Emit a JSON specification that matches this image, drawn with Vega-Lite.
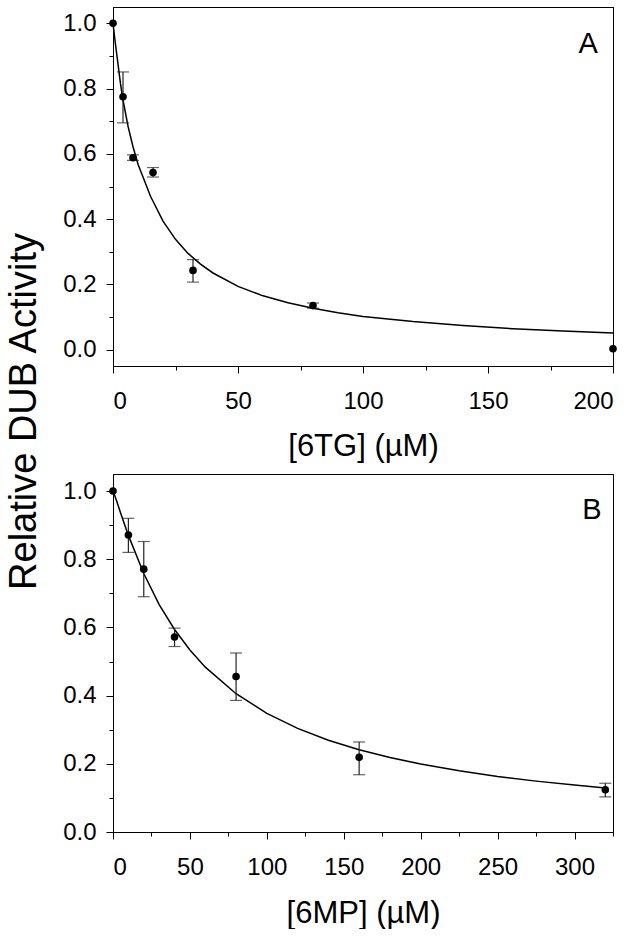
{
  "$schema": "https://vega.github.io/schema/vega-lite/v6.json",
  "padding": {"left": 4, "top": 6, "right": 0, "bottom": 0},
  "spacing": 108,
  "bounds": "flush",
  "config": {
    "view": {"stroke": "#000", "strokeWidth": 1},
    "axis": {
      "domainColor": "#000", "tickColor": "#000", "labelColor": "#000", "titleColor": "#000",
      "labelFont": "Liberation Sans", "titleFont": "Liberation Sans",
      "labelFontSize": 24, "titleFontSize": 31, "titleFontWeight": "normal",
      "grid": false, "domainWidth": 1, "tickWidth": 1
    }
  },
  "datasets": {
    "a_pts": [
      {"x": 0, "y": 1.0, "lo": null, "hi": null},
      {"x": 4, "y": 0.775, "lo": 0.695, "hi": 0.851},
      {"x": 8, "y": 0.588, "lo": 0.580, "hi": 0.597},
      {"x": 16, "y": 0.543, "lo": 0.529, "hi": 0.558},
      {"x": 32, "y": 0.243, "lo": 0.207, "hi": 0.276},
      {"x": 80, "y": 0.135, "lo": 0.127, "hi": 0.143},
      {"x": 200, "y": 0.003, "lo": null, "hi": null}
    ],
    "a_curve": [
      {"x": 0, "y": 1.0}, {"x": 0.5, "y": 0.967}, {"x": 1, "y": 0.935}, {"x": 2, "y": 0.875},
      {"x": 3, "y": 0.815}, {"x": 4, "y": 0.765}, {"x": 6, "y": 0.685}, {"x": 8, "y": 0.622},
      {"x": 10, "y": 0.568}, {"x": 12, "y": 0.529}, {"x": 15, "y": 0.47}, {"x": 20, "y": 0.394},
      {"x": 25, "y": 0.338}, {"x": 30, "y": 0.295}, {"x": 35, "y": 0.262}, {"x": 40, "y": 0.235},
      {"x": 50, "y": 0.194}, {"x": 60, "y": 0.165}, {"x": 70, "y": 0.144}, {"x": 80, "y": 0.127},
      {"x": 90, "y": 0.113}, {"x": 100, "y": 0.102}, {"x": 120, "y": 0.086}, {"x": 140, "y": 0.074},
      {"x": 160, "y": 0.064}, {"x": 180, "y": 0.057}, {"x": 200, "y": 0.051}
    ],
    "b_pts": [
      {"x": 0, "y": 1.0, "lo": null, "hi": null},
      {"x": 10, "y": 0.871, "lo": 0.820, "hi": 0.920},
      {"x": 20, "y": 0.771, "lo": 0.690, "hi": 0.852},
      {"x": 40, "y": 0.572, "lo": 0.544, "hi": 0.598},
      {"x": 80, "y": 0.456, "lo": 0.386, "hi": 0.525},
      {"x": 160, "y": 0.219, "lo": 0.168, "hi": 0.264},
      {"x": 320, "y": 0.124, "lo": 0.103, "hi": 0.143}
    ],
    "b_curve": [
      {"x": 0, "y": 1.0}, {"x": 2.5, "y": 0.969}, {"x": 5, "y": 0.935}, {"x": 10, "y": 0.870},
      {"x": 20, "y": 0.758}, {"x": 30, "y": 0.667}, {"x": 40, "y": 0.594}, {"x": 50, "y": 0.534},
      {"x": 60, "y": 0.4835}, {"x": 80, "y": 0.4055}, {"x": 100, "y": 0.348}, {"x": 120, "y": 0.304},
      {"x": 140, "y": 0.2693}, {"x": 160, "y": 0.2414}, {"x": 180, "y": 0.2184}, {"x": 200, "y": 0.1993},
      {"x": 225, "y": 0.1794}, {"x": 250, "y": 0.163}, {"x": 275, "y": 0.1492}, {"x": 300, "y": 0.1375},
      {"x": 320, "y": 0.1293}
    ]
  },
  "vconcat": [
    {
      "width": 500,
      "height": 359,
      "resolve": {"axis": {"x": "independent", "y": "independent"}},
      "layer": [
        {
          "encoding": {
            "x": {
              "field": "x", "type": "quantitative",
              "scale": {"domain": [0, 200], "nice": false, "zero": false},
              "axis": {
                "title": "[6TG] (µM)", "values": [0, 25, 50, 75, 100, 125, 150, 175, 200],
                "labelExpr": "datum.value % 50 == 0 ? datum.label : ''",
                "tickSize": {"condition": {"test": "datum.value % 50 == 0", "value": 7}, "value": 4},
                "labelPadding": 16, "titleX": 250, "titleY": 89, "titleBaseline": "alphabetic", "titleAlign": "center"
              }
            },
            "y": {
              "field": "y", "type": "quantitative",
              "scale": {"domain": [-0.05, 1.05], "nice": false, "zero": false},
              "axis": {
                "title": "Relative DUB Activity", "titleFontSize": 38,
                "values": [0, 0.1, 0.2, 0.3, 0.4, 0.5, 0.6, 0.7, 0.8, 0.9, 1.0],
                "labelExpr": "round(datum.value * 10) % 2 == 0 ? format(datum.value, '.1f') : ''",
                "tickSize": {"condition": {"test": "round(datum.value * 10) % 2 == 0", "value": 7}, "value": 4},
                "labelPadding": 10, "titleX": -78, "titleY": 404, "titleAngle": -90, "titleBaseline": "alphabetic", "titleAlign": "center"
              }
            }
          },
          "layer": [
            {"data": {"name": "a_curve"}, "mark": {"type": "line", "color": "#000", "strokeWidth": 1.5}},
            {
              "data": {"name": "a_pts"},
              "transform": [{"filter": "datum.lo != null"}],
              "mark": {"type": "rule", "color": "#222", "strokeWidth": 1.2},
              "encoding": {"y": {"field": "lo", "type": "quantitative"}, "y2": {"field": "hi"}}
            },
            {
              "data": {"name": "a_pts"},
              "transform": [{"filter": "datum.lo != null"}],
              "mark": {"type": "tick", "orient": "horizontal", "color": "#222", "size": 12, "thickness": 1.2},
              "encoding": {"y": {"field": "lo", "type": "quantitative"}}
            },
            {
              "data": {"name": "a_pts"},
              "transform": [{"filter": "datum.lo != null"}],
              "mark": {"type": "tick", "orient": "horizontal", "color": "#222", "size": 12, "thickness": 1.2},
              "encoding": {"y": {"field": "hi", "type": "quantitative"}}
            },
            {"data": {"name": "a_pts"}, "mark": {"type": "point", "filled": true, "color": "#000", "opacity": 1, "size": 58}}
          ]
        },
        {
          "data": {"name": "a_curve"},
          "mark": {"type": "line", "opacity": 0},
          "encoding": {
            "x": {
              "field": "x", "type": "quantitative",
              "axis": {"orient": "top", "labels": false, "ticks": false, "domain": true, "title": "A", "titleFontSize": 29, "titleX": 484.3, "titleY": 45, "titleAlign": "right", "titleBaseline": "alphabetic", "titleAngle": 0}
            },
            "y": {
              "field": "y", "type": "quantitative",
              "axis": {"orient": "right", "labels": false, "ticks": false, "domain": true, "title": null}
            }
          }
        }
      ]
    },
    {
      "width": 500,
      "height": 358,
      "resolve": {"axis": {"x": "independent", "y": "independent"}},
      "layer": [
        {
          "encoding": {
            "x": {
              "field": "x", "type": "quantitative",
              "scale": {"domain": [0, 325], "nice": false, "zero": false},
              "axis": {
                "title": "[6MP] (µM)", "values": [0, 25, 50, 75, 100, 125, 150, 175, 200, 225, 250, 275, 300, 325],
                "labelExpr": "datum.value % 50 == 0 ? datum.label : ''",
                "tickSize": {"condition": {"test": "datum.value % 50 == 0", "value": 7}, "value": 4},
                "labelPadding": 16, "titleX": 250, "titleY": 90, "titleBaseline": "alphabetic", "titleAlign": "center"
              }
            },
            "y": {
              "field": "y", "type": "quantitative",
              "scale": {"domain": [0, 1.05], "nice": false, "zero": false},
              "axis": {
                "title": null,
                "values": [0, 0.1, 0.2, 0.3, 0.4, 0.5, 0.6, 0.7, 0.8, 0.9, 1.0],
                "labelExpr": "round(datum.value * 10) % 2 == 0 ? format(datum.value, '.1f') : ''",
                "tickSize": {"condition": {"test": "round(datum.value * 10) % 2 == 0", "value": 7}, "value": 4},
                "labelPadding": 10
              }
            }
          },
          "layer": [
            {"data": {"name": "b_curve"}, "mark": {"type": "line", "color": "#000", "strokeWidth": 1.5}},
            {
              "data": {"name": "b_pts"},
              "transform": [{"filter": "datum.lo != null"}],
              "mark": {"type": "rule", "color": "#222", "strokeWidth": 1.2},
              "encoding": {"y": {"field": "lo", "type": "quantitative"}, "y2": {"field": "hi"}}
            },
            {
              "data": {"name": "b_pts"},
              "transform": [{"filter": "datum.lo != null"}],
              "mark": {"type": "tick", "orient": "horizontal", "color": "#222", "size": 12, "thickness": 1.2},
              "encoding": {"y": {"field": "lo", "type": "quantitative"}}
            },
            {
              "data": {"name": "b_pts"},
              "transform": [{"filter": "datum.lo != null"}],
              "mark": {"type": "tick", "orient": "horizontal", "color": "#222", "size": 12, "thickness": 1.2},
              "encoding": {"y": {"field": "hi", "type": "quantitative"}}
            },
            {"data": {"name": "b_pts"}, "mark": {"type": "point", "filled": true, "color": "#000", "opacity": 1, "size": 58}}
          ]
        },
        {
          "data": {"name": "b_curve"},
          "mark": {"type": "line", "opacity": 0},
          "encoding": {
            "x": {
              "field": "x", "type": "quantitative",
              "axis": {"orient": "top", "labels": false, "ticks": false, "domain": true, "title": "B", "titleFontSize": 29, "titleX": 488, "titleY": 44.3, "titleAlign": "right", "titleBaseline": "alphabetic", "titleAngle": 0}
            },
            "y": {
              "field": "y", "type": "quantitative",
              "axis": {"orient": "right", "labels": false, "ticks": false, "domain": true, "title": null}
            }
          }
        }
      ]
    }
  ]
}
